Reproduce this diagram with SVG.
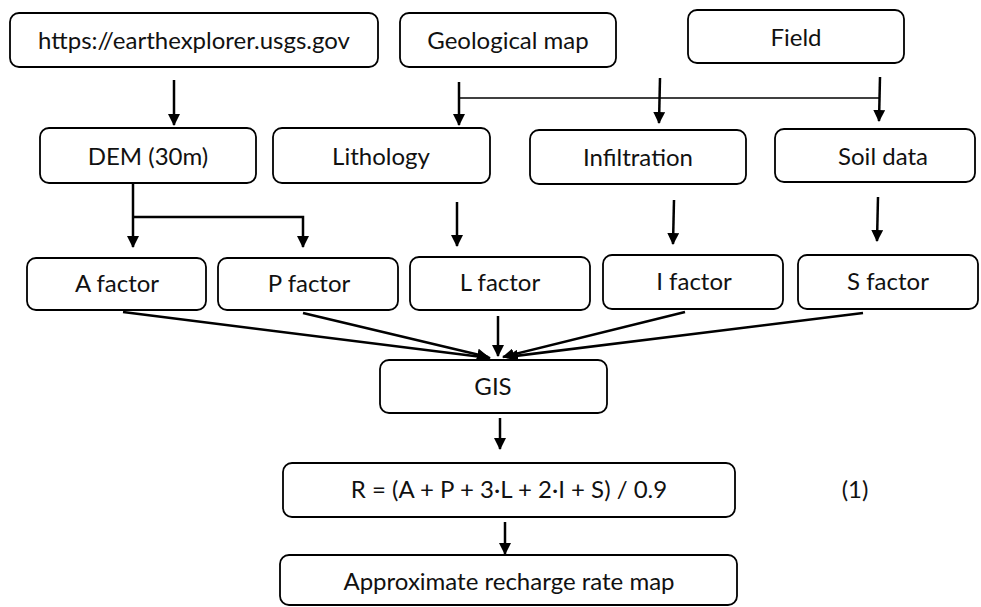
<svg xmlns="http://www.w3.org/2000/svg" width="981" height="607" viewBox="0 0 981 607">
<defs>
<marker id="ah" viewBox="0 0 12 12" refX="11" refY="6" markerWidth="12" markerHeight="12" markerUnits="userSpaceOnUse" orient="auto">
<path d="M0,0 L12,6 L0,12 Z" fill="#000"/>
</marker>
</defs>
<style>
.box{fill:#fff;stroke:#000;stroke-width:1.8}
.t{font-family:"Lato","Liberation Sans",sans-serif;font-size:24px;fill:#111;text-anchor:middle}
.c{stroke:#000;stroke-width:2.5;fill:none}
.thin{stroke:#000;stroke-width:1.3;fill:none}
</style>
<rect width="981" height="607" fill="#fff"/>
<g id="connectors">
<line class="c" x1="174" y1="80" x2="174" y2="125" marker-end="url(#ah)"/>
<line class="c" x1="459" y1="82" x2="459" y2="125" marker-end="url(#ah)"/>
<line class="thin" x1="459" y1="98" x2="879" y2="98"/>
<line class="c" x1="660" y1="78" x2="659" y2="123" marker-end="url(#ah)"/>
<line class="c" x1="880" y1="77" x2="879" y2="121" marker-end="url(#ah)"/>
<line class="c" x1="133" y1="183" x2="133" y2="247" marker-end="url(#ah)"/>
<polyline class="c" points="133,217 303,217 303,247" marker-end="url(#ah)"/>
<line class="c" x1="457" y1="202" x2="457" y2="246" marker-end="url(#ah)"/>
<line class="c" x1="674" y1="200" x2="673" y2="244" marker-end="url(#ah)"/>
<line class="c" x1="878" y1="197" x2="877" y2="241" marker-end="url(#ah)"/>
<line class="c" x1="123" y1="312" x2="490" y2="358" marker-end="url(#ah)"/>
<line class="c" x1="303" y1="313" x2="488" y2="357" marker-end="url(#ah)"/>
<line class="c" x1="498" y1="316" x2="498" y2="356" marker-end="url(#ah)"/>
<line class="c" x1="685" y1="312" x2="503" y2="357" marker-end="url(#ah)"/>
<line class="c" x1="863" y1="313" x2="507" y2="357" marker-end="url(#ah)"/>
<line class="c" x1="500" y1="418" x2="500" y2="449" marker-end="url(#ah)"/>
<line class="c" x1="505" y1="522" x2="505" y2="554" marker-end="url(#ah)"/>
</g>
<g id="n-https"><rect class="box" x="10" y="13" width="368" height="54" rx="9"/><text class="t" x="194" y="49">https://earthexplorer.usgs.gov</text></g>
<g id="n-geo"><rect class="box" x="400" y="13" width="216" height="54" rx="9"/><text class="t" x="508" y="49">Geological map</text></g>
<g id="n-field"><rect class="box" x="688" y="10" width="216" height="53" rx="9"/><text class="t" x="796" y="46">Field</text></g>
<g id="n-dem"><rect class="box" x="40" y="128" width="216" height="55" rx="9"/><text class="t" x="148" y="165">DEM (30m)</text></g>
<g id="n-lith"><rect class="box" x="273" y="128" width="217" height="55" rx="9"/><text class="t" x="381" y="165">Lithology</text></g>
<g id="n-infil"><rect class="box" x="530" y="130" width="216" height="54" rx="9"/><text class="t" x="638" y="166">Infiltration</text></g>
<g id="n-soil"><rect class="box" x="775" y="129" width="200" height="53" rx="9"/><text class="t" x="883" y="165">Soil data</text></g>
<g id="n-a"><rect class="box" x="27" y="258" width="179" height="52" rx="9"/><text class="t" x="117" y="292">A factor</text></g>
<g id="n-p"><rect class="box" x="218" y="258" width="180" height="52" rx="9"/><text class="t" x="309" y="292">P factor</text></g>
<g id="n-l"><rect class="box" x="410" y="257" width="180" height="53" rx="9"/><text class="t" x="500" y="291">L factor</text></g>
<g id="n-i"><rect class="box" x="603" y="255" width="180" height="54" rx="9"/><text class="t" x="694" y="290">I factor</text></g>
<g id="n-s"><rect class="box" x="798" y="255" width="180" height="54" rx="9"/><text class="t" x="888" y="290">S factor</text></g>
<g id="n-gis"><rect class="box" x="380" y="360" width="227" height="53" rx="9"/><text class="t" x="493" y="395">GIS</text></g>
<g id="n-formula"><rect class="box" x="283" y="463" width="452" height="54" rx="9"/><text class="t" x="509" y="498">R = (A + P + 3·L + 2·I + S) / 0.9</text></g>
<g id="n-final"><rect class="box" x="280" y="555" width="457" height="50" rx="9"/><text class="t" x="509" y="590">Approximate recharge rate map</text></g>
<text class="t" x="855" y="498">(1)</text>
</svg>
